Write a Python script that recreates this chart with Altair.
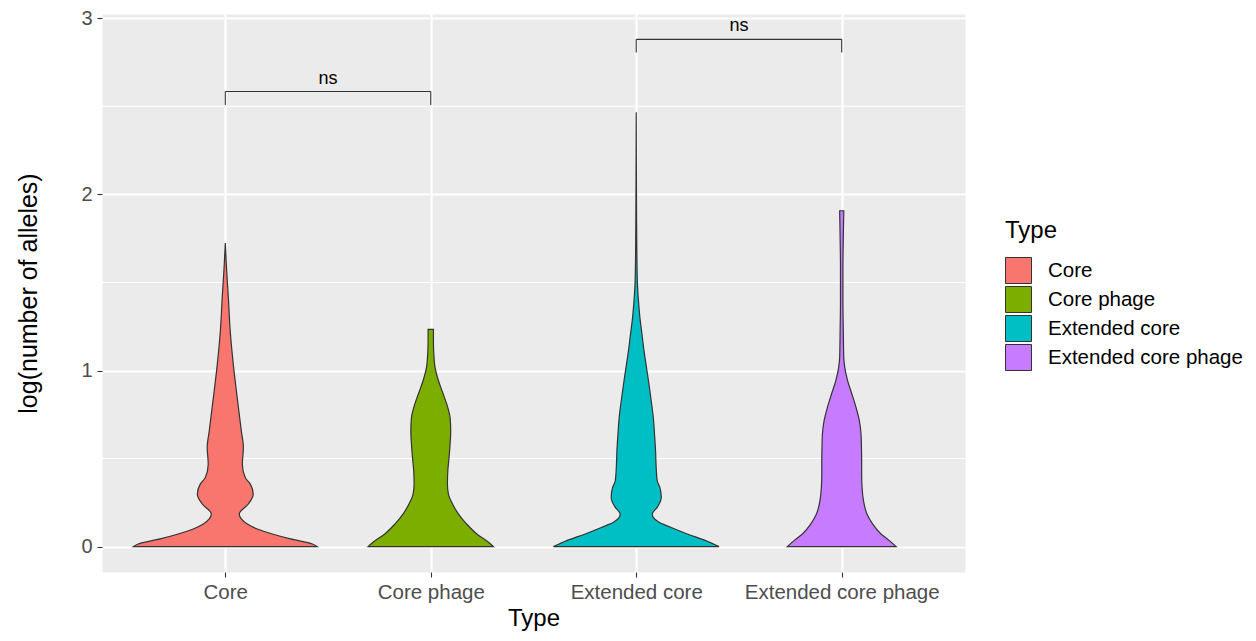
import altair as alt
import pandas as pd

# ---- data ----
types = ["Core", "Core phage", "Extended core", "Extended core phage"]
colors = ["#F8766D", "#7CAE00", "#00BFC4", "#C77CFF"]

# violin outlines: y level (log number of alleles) and half-width (category units)
core_y = [0, 0.015, 0.044, 0.072, 0.100, 0.128, 0.157, 0.185, 0.242, 0.298, 0.355,
          0.393, 0.468, 0.563, 0.657, 0.752, 0.846, 1.035, 1.224, 1.413, 1.602, 1.724]
core_hw = [0.448, 0.424, 0.317, 0.229, 0.156, 0.107, 0.078, 0.068, 0.112, 0.136, 0.122,
           0.097, 0.083, 0.088, 0.078, 0.068, 0.058, 0.039, 0.024, 0.015, 0.005, 0.0]

cp_y = [0, 0.025, 0.072, 0.128, 0.185, 0.242, 0.298, 0.355, 0.431, 0.506, 0.582,
        0.657, 0.733, 0.789, 0.846, 0.903, 0.959, 1.016, 1.092, 1.167, 1.233]
cp_hw = [0.305, 0.281, 0.224, 0.175, 0.135, 0.106, 0.086, 0.081, 0.083, 0.089, 0.094,
         0.097, 0.094, 0.083, 0.067, 0.049, 0.033, 0.021, 0.015, 0.013, 0.013]

ec_y = [0, 0.034, 0.072, 0.110, 0.138, 0.166, 0.185, 0.223, 0.279, 0.336, 0.374,
        0.449, 0.544, 0.638, 0.733, 0.827, 0.922, 1.016, 1.110, 1.205, 1.299, 1.394,
        1.488, 1.677, 1.960, 2.466]
ec_hw = [0.403, 0.338, 0.248, 0.167, 0.111, 0.083, 0.078, 0.102, 0.122, 0.115, 0.102,
         0.097, 0.094, 0.089, 0.083, 0.073, 0.062, 0.050, 0.038, 0.028, 0.018, 0.011,
         0.006, 0.003, 0.0015, 0.0]

ecp_y = [0, 0.034, 0.072, 0.128, 0.185, 0.261, 0.336, 0.412, 0.487, 0.563, 0.638,
         0.714, 0.789, 0.865, 0.941, 1.016, 1.073, 1.205, 1.394, 1.582, 1.772, 1.907]
ecp_hw = [0.265, 0.232, 0.191, 0.151, 0.123, 0.106, 0.099, 0.097, 0.097, 0.096, 0.094,
          0.086, 0.070, 0.050, 0.029, 0.015, 0.010, 0.008, 0.006, 0.006, 0.008, 0.010]

# significance brackets
bracket_from = [1, 3]
bracket_to = [2, 4]
bracket_y = [2.584, 2.880]
bracket_tip = [2.508, 2.806]
bracket_label = ["ns", "ns"]

y_ticks = [0, 1, 2, 3]
y_minor = [0.5, 1.5, 2.5]

# ---- tables ----
rows = []
for i, (t, ys, hws) in enumerate(zip(types, [core_y, cp_y, ec_y, ecp_y],
                                     [core_hw, cp_hw, ec_hw, ecp_hw])):
    c = i + 1
    for y, hw in zip(ys, hws):
        rows.append({"Type": t, "y": y, "lo": c - hw, "hi": c + hw})
vdf = pd.DataFrame(rows)

seg = []
for a, b, y, tip in zip(bracket_from, bracket_to, bracket_y, bracket_tip):
    seg.append({"x": a, "x2": a, "y": tip, "y2": y})
    seg.append({"x": a, "x2": b, "y": y, "y2": y})
    seg.append({"x": b, "x2": b, "y": y, "y2": tip})
sdf = pd.DataFrame(seg)

tdf = pd.DataFrame({"x": [(a + b) / 2 for a, b in zip(bracket_from, bracket_to)],
                    "y": bracket_y, "label": bracket_label})
mdf = pd.DataFrame({"y": y_minor})

FONT = "Liberation Sans"
label_expr = "[" + ",".join("'%s'" % t for t in types) + "][datum.value - 1]"

xscale = alt.Scale(domain=[0.4, 4.6], nice=False, zero=False)
yscale = alt.Scale(domain=[-0.144, 3.024], nice=False, zero=False)

xaxis = alt.Axis(values=[1, 2, 3, 4], labelExpr=label_expr, title="Type",
                 grid=True, gridColor="white", gridWidth=2.2,
                 domain=False, tickColor="#333333", tickSize=5, tickWidth=1.1,
                 labelFont=FONT, labelFontSize=20.5, labelColor="#4D4D4D", labelPadding=5,
                 labelLimit=0,
                 titleFont=FONT, titleFontSize=24, titleFontWeight="normal",
                 titleColor="black", titlePadding=4, labelFlush=False)
yaxis = alt.Axis(values=y_ticks, format="d", title="log(number of alleles)",
                 grid=True, gridColor="white", gridWidth=2.2,
                 domain=False, tickColor="#333333", tickSize=5, tickWidth=1.1,
                 labelFont=FONT, labelFontSize=20, labelColor="#4D4D4D", labelPadding=5,
                 titleFont=FONT, titleFontSize=25, titleFontWeight="normal",
                 titleColor="black", titlePadding=39)

minor = alt.Chart(mdf).mark_rule(color="white", strokeWidth=1.1).encode(
    y=alt.Y("y:Q", scale=yscale, axis=yaxis)
)

violins = alt.Chart(vdf).mark_area(
    orient="horizontal", interpolate="monotone", stroke="#333333",
    strokeWidth=1.2, opacity=1
).encode(
    y=alt.Y("y:Q", scale=yscale, axis=yaxis),
    x=alt.X("lo:Q", scale=xscale, axis=xaxis),
    x2="hi:Q",
    color=alt.Color("Type:N", scale=alt.Scale(domain=types, range=colors),
                    legend=alt.Legend(
                        orient="none", legendX=903, legendY=205, padding=0,
                        title="Type", titleFont=FONT, titleFontSize=24,
                        titleFontWeight="normal", titleColor="black", titlePadding=14,
                        labelFont=FONT, labelFontSize=20.5, labelColor="black",
                        labelOffset=16, rowPadding=-5, labelLimit=0,
                        symbolType="square", symbolSize=676,
                        symbolStrokeColor="#333333", symbolStrokeWidth=1,
                        symbolOpacity=1)),
)

brackets = alt.Chart(sdf).mark_rule(color="#333333", strokeWidth=1.1).encode(
    x=alt.X("x:Q", scale=xscale, axis=xaxis), x2="x2:Q",
    y=alt.Y("y:Q", scale=yscale, axis=yaxis), y2="y2:Q",
)

labels = alt.Chart(tdf).mark_text(
    font=FONT, fontSize=18, color="black", baseline="alphabetic", dy=-8
).encode(
    x=alt.X("x:Q", scale=xscale, axis=xaxis),
    y=alt.Y("y:Q", scale=yscale, axis=yaxis),
    text="label:N",
)

chart = alt.layer(minor, violins, brackets, labels).properties(
    width=863, height=558,
    autosize=alt.AutoSizeParams(type="none"),
    padding={"left": 94, "top": 6, "right": 283, "bottom": 61},
    background="white",
).configure(font=FONT).configure_view(fill="#EBEBEB", stroke="transparent")

chart.save("out.html", embed_options={"renderer": "svg", "actions": False})
